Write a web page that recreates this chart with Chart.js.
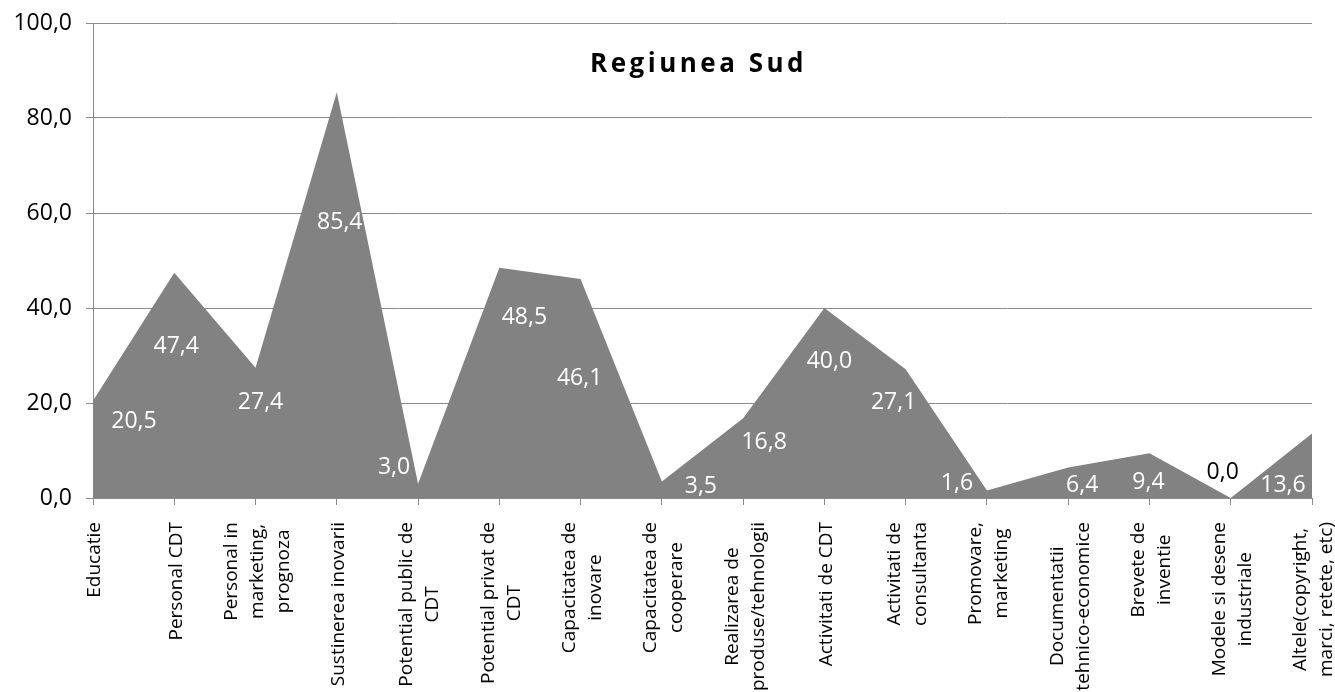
<!DOCTYPE html>
<html>
<head>
<meta charset="utf-8">
<script src="https://cdn.jsdelivr.net/npm/chart.js@4.4.1/dist/chart.umd.min.js"></script>
<style>
  html, body { margin: 0; padding: 0; background: #fff; }
  #wrap { width: 1335px; height: 692px; position: relative; }
</style>
</head>
<body>
<div id="wrap"><canvas id="c"></canvas></div>
<script>
// ---- data ----
const chartTitle = 'Regiunea Sud';
const categories = [
  ['Educatie'],
  ['Personal CDT'],
  ['Personal in', 'marketing,', 'prognoza'],
  ['Sustinerea inovarii'],
  ['Potential public de', 'CDT'],
  ['Potential privat de', 'CDT'],
  ['Capacitatea de', 'inovare'],
  ['Capacitatea de', 'cooperare'],
  ['Realizarea de', 'produse/tehnologii'],
  ['Activitati de CDT'],
  ['Activitati de', 'consultanta'],
  ['Promovare,', 'marketing'],
  ['Documentatii', 'tehnico-economice'],
  ['Brevete de', 'inventie'],
  ['Modele si desene', 'industriale'],
  ['Altele(copyright,', 'marci, retete, etc)']
];
const values = [20.5, 47.4, 27.4, 85.4, 3.0, 48.5, 46.1, 3.5, 16.8, 40.0, 27.1, 1.6, 6.4, 9.4, 0.0, 13.6];
const yTicks = [0, 20, 40, 60, 80, 100];

// ---- label placement (style, px offsets from each point) ----
const labelOffsets = [[41,21],[2,74],[5,35],[3,130],[-24,-16],[25,50],[-1,99],[39,5],[21,24],[5,53],[-12,33],[-30,-7],[14,18],[-1,29],[-8,-26],[-29,52]];
const labelColors = values.map(v => v === 0 ? '#000000' : '#ffffff');

const fmt = v => Number(v).toFixed(1).replace('.', ',');
const FONT = '"Open Sans", "DejaVu Sans", sans-serif';
Chart.defaults.font.family = FONT;

const overlay = {
  id: 'overlay',
  afterDatasetsDraw(chart) {
    const ctx = chart.ctx;
    const meta = chart.getDatasetMeta(0);
    ctx.save();
    ctx.font = '23px ' + FONT;
    ctx.textAlign = 'center';
    ctx.textBaseline = 'middle';
    meta.data.forEach((pt, i) => {
      const o = labelOffsets[i];
      ctx.fillStyle = labelColors[i];
      ctx.fillText(fmt(values[i]), pt.x + o[0], pt.y + o[1]);
    });
    ctx.restore();
  },
  afterDraw(chart) {
    const ctx = chart.ctx;
    const xs = chart.scales.x;
    const area = chart.chartArea;
    // title
    ctx.save();
    ctx.font = 'bold 26px ' + FONT;
    try { ctx.letterSpacing = '3.5px'; } catch (e) {}
    ctx.fillStyle = '#000';
    ctx.textAlign = 'center';
    ctx.textBaseline = 'alphabetic';
    ctx.fillText(chartTitle, (area.left + area.right) / 2 - 4, 72);
    ctx.restore();
    // category labels, rotated, lines centred on each other
    ctx.save();
    ctx.font = '19px ' + FONT;
    ctx.fillStyle = '#000';
    ctx.textAlign = 'right';
    ctx.textBaseline = 'middle';
    const lineH = 26;
    const top = xs.top + 24;
    categories.forEach((lines, i) => {
      const x = xs.getPixelForValue(i);
      const widths = lines.map(l => ctx.measureText(l).width);
      const maxW = Math.max(...widths);
      const n = lines.length;
      lines.forEach((line, j) => {
        const cx = x + 2 + (j - (n - 1) / 2) * lineH;
        const cy = top + (maxW - widths[j]) / 2;
        ctx.save();
        ctx.translate(cx, cy);
        ctx.rotate(-Math.PI / 2);
        ctx.fillText(line, 0, 0);
        ctx.restore();
      });
    });
    ctx.restore();
  }
};

new Chart(document.getElementById('c'), {
  type: 'line',
  data: {
    labels: categories.map(l => l.join(' ')),
    datasets: [{
      data: values,
      fill: 'origin',
      backgroundColor: '#828282',
      borderWidth: 0,
      borderColor: 'rgba(0,0,0,0)',
      pointRadius: 0,
      tension: 0
    }]
  },
  options: {
    responsive: true,
    maintainAspectRatio: false,
    animation: false,
    layout: { padding: { top: 23, right: 23, left: 0, bottom: 0 } },
    plugins: { legend: { display: false }, tooltip: { enabled: false }, title: { display: false } },
    scales: {
      x: {
        type: 'category',
        offset: false,
        grid: { drawOnChartArea: false, drawTicks: true, tickLength: 7, color: '#8a8a8a', lineWidth: 1 },
        border: { display: true, color: '#8a8a8a', width: 1 },
        ticks: { display: false, autoSkip: false },
        afterFit: s => { s.height = 194; }
      },
      y: {
        min: 0, max: 100,
        afterBuildTicks: s => { s.ticks = yTicks.map(v => ({ value: v })); },
        grid: { color: '#8a8a8a', lineWidth: 1, drawTicks: true, tickLength: 7 },
        border: { display: true, color: '#8a8a8a', width: 1 },
        ticks: { color: '#000', font: { size: 23, lineHeight: 0.3 }, padding: 14, callback: v => fmt(v) },
        afterFit: s => { s.width = 93; }
      }
    }
  },
  plugins: [overlay]
});
</script>
</body>
</html>
